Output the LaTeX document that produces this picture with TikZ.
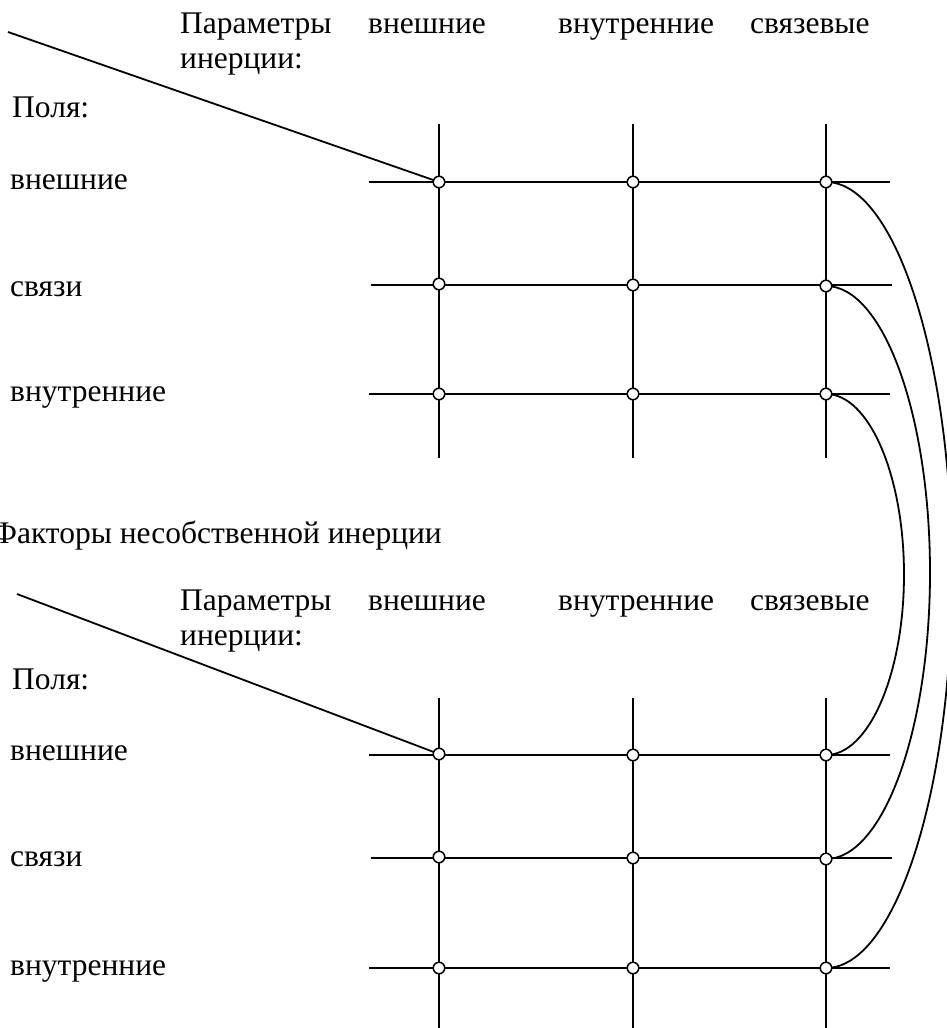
\documentclass[tikz,border=0pt]{standalone}
\usepackage{fontspec}
\setmainfont{Liberation Serif}
\pgfdeclarelayer{bg}
\pgfsetlayers{bg,main}
\begin{document}
\begin{tikzpicture}[x=1pt,y=-1pt,
  ln/.style={line width=1.8pt},
  pt/.style={circle,draw,fill=white,line width=1.5pt,inner sep=0pt,minimum size=11.5pt},
  lbl/.style={anchor=base west,inner sep=0pt,font=\fontsize{31.5}{38}\selectfont}]
\useasboundingbox (0,0) rectangle (947,1028);
\clip (0,0) rectangle (947,1028);

% ---------- upper block texts ----------
\node[lbl] (uh1) at (180,33) {Параметры};
\node[lbl] (uh2) at (368,33) {внешние};
\node[lbl] (uh3) at (558,33) {внутренние};
\node[lbl] (uh4) at (750,33) {связевые};
\node[lbl] (uh5) at (180,68) {инерции:};
\node[lbl] (up) at (12,117) {Поля:};
\node[lbl] (ur1) at (10,189) {внешние};
\node[lbl] (ur2) at (10,296) {связи};
\node[lbl] (ur3) at (10,401) {внутренние};

\node[lbl] (fac) at (-8,543) {Факторы несобственной инерции};

% ---------- lower block texts ----------
\node[lbl] (lh1) at (180,610) {Параметры};
\node[lbl] (lh2) at (368,610) {внешние};
\node[lbl] (lh3) at (558,610) {внутренние};
\node[lbl] (lh4) at (750,610) {связевые};
\node[lbl] (lh5) at (180,645) {инерции:};
\node[lbl] (lp) at (12,689) {Поля:};
\node[lbl] (lr1) at (10,760) {внешние};
\node[lbl] (lr2) at (10,866) {связи};
\node[lbl] (lr3) at (10,975) {внутренние};

% ---------- upper grid points ----------
\node[pt] (u11) at (439,182) {};
\node[pt] (u12) at (633,182) {};
\node[pt] (u13) at (826,182) {};
\node[pt] (u21) at (439,284) {};
\node[pt] (u22) at (633,285) {};
\node[pt] (u23) at (826,286) {};
\node[pt] (u31) at (439,394) {};
\node[pt] (u32) at (633,394) {};
\node[pt] (u33) at (826,394) {};

% ---------- lower grid points ----------
\node[pt] (l11) at (439,754) {};
\node[pt] (l12) at (633,755) {};
\node[pt] (l13) at (826,755) {};
\node[pt] (l21) at (439,857) {};
\node[pt] (l22) at (633,858) {};
\node[pt] (l23) at (826,859) {};
\node[pt] (l31) at (439,968) {};
\node[pt] (l32) at (633,968) {};
\node[pt] (l33) at (826,968) {};

% free ends
\coordinate (ua) at (8,32);
\coordinate (la) at (17,594);
\coordinate (uv1t) at (439,124); \coordinate (uv1b) at (439,458);
\coordinate (uv2t) at (633,124); \coordinate (uv2b) at (633,458);
\coordinate (uv3t) at (826,124); \coordinate (uv3b) at (826,458);
\coordinate (lv1t) at (439,698); \coordinate (lv1b) at (439,1035);
\coordinate (lv2t) at (633,698); \coordinate (lv2b) at (633,1035);
\coordinate (lv3t) at (826,698); \coordinate (lv3b) at (826,1035);
\coordinate (uh1l) at (369,182); \coordinate (uh1r) at (890,182);
\coordinate (uh2l) at (371,285); \coordinate (uh2r) at (892,285);
\coordinate (uh3l) at (369,394); \coordinate (uh3r) at (890,394);
\coordinate (lh1l) at (369,755); \coordinate (lh1r) at (890,755);
\coordinate (lh2l) at (371,858); \coordinate (lh2r) at (892,858);
\coordinate (lh3l) at (369,968); \coordinate (lh3r) at (890,968);
% curve extremes
\coordinate (m1) at (904,574.5);
\coordinate (m2) at (930,572.5);
\coordinate (m3) at (952,575);

\begin{pgfonlayer}{bg}
\draw[ln] (ua) -- (u11.center);
\draw[ln] (la) -- (l11.center);
\draw[ln] (uv1t) -- (uv1b);
\draw[ln] (uv2t) -- (uv2b);
\draw[ln] (uv3t) -- (uv3b);
\draw[ln] (lv1t) -- (lv1b);
\draw[ln] (lv2t) -- (lv2b);
\draw[ln] (lv3t) -- (lv3b);
\draw[ln] (uh1l) -- (uh1r);
\draw[ln] (uh2l) -- (uh2r);
\draw[ln] (uh3l) -- (uh3r);
\draw[ln] (lh1l) -- (lh1r);
\draw[ln] (lh2l) -- (lh2r);
\draw[ln] (lh3l) -- (lh3r);
% connecting arcs
\draw[ln] (u33.center) .. controls +(43,0) and +(0,-99) .. (m1)
                       .. controls +(0,99) and +(43,0) .. (l13.center);
\draw[ln] (u23.center) .. controls +(57,0) and +(0,-158) .. (m2)
                       .. controls +(0,158) and +(57,0) .. (l23.center);
\draw[ln] (u13.center) .. controls +(69,0) and +(0,-217) .. (m3)
                       .. controls +(0,217) and +(69,0) .. (l33.center);
\end{pgfonlayer}
\end{tikzpicture}
\end{document}
